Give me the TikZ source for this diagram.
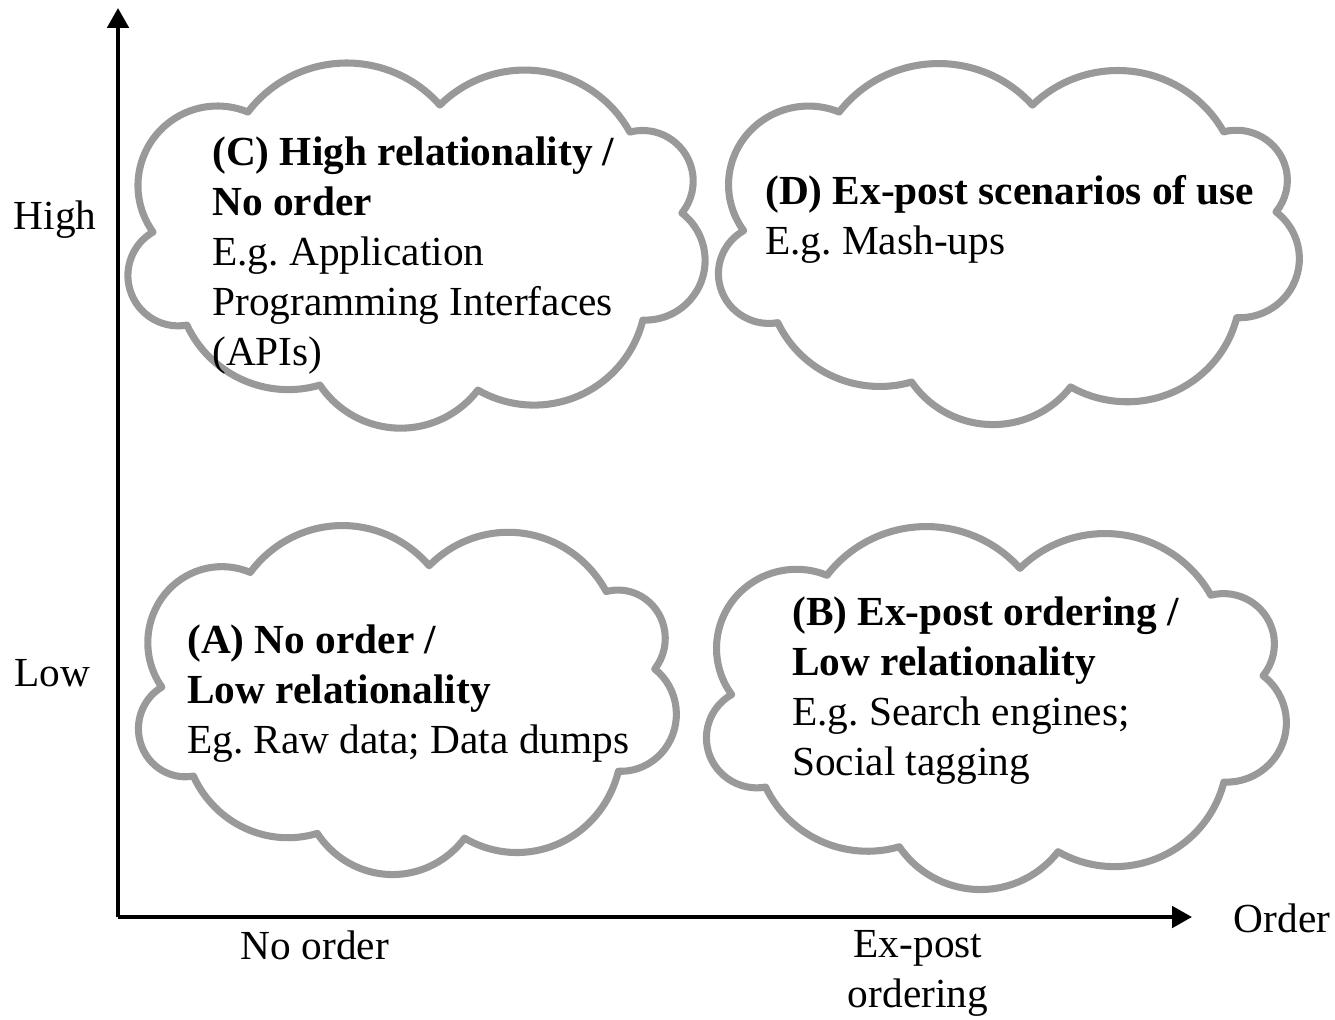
\documentclass[tikz,border=0pt]{standalone}
\usepackage{fontspec}
\setmainfont{Liberation Serif}
\usetikzlibrary{arrows.meta}
\frenchspacing

% cloud outline, nine bumps, traced on the (C) cloud
\newcommand\cloudpath{(153,232)
  arc[start angle=144.2, end angle=292.5, radius=79.5]
  arc[start angle=217.23, end angle=318.6, radius=124.17]
  arc[start angle=225.13, end angle=331.05, radius=120.2]
  arc[start angle=255.54, end angle=399.06, radius=50.67]
  arc[start angle=307.65, end angle=452.4, radius=59.75]
  arc[start angle=14.02, end angle=120.0, radius=112.24]
  arc[start angle=37.48, end angle=146.14, radius=97.29]
  arc[start angle=73.65, end angle=154.91, radius=112.0]
  arc[start angle=80.04, end angle=239.8, radius=50.3] -- cycle}

\begin{document}
\begin{tikzpicture}[x=0.75pt,y=-0.75pt]
\tikzstyle{every node}=[font=\fontsize{31}{37.5}\selectfont];
\tikzstyle{cloudline}=[draw=black!40, line width=5.3pt, line join=round];
\tikzstyle{txt}=[anchor=north west, align=left, inner sep=0pt];
\tikzstyle{axis}=[line width=3pt, -{Triangle[length=15pt,width=16pt]}];
\useasboundingbox (0,0) rectangle (1335,1020);
% axes
\coordinate (o) at (118,917);
\coordinate (ytop) at (118,8);
\coordinate (xend) at (1192,917);
\draw [axis] (o) -- (ytop);
\draw [axis] (o) -- (xend);
\node (high) at (55,220) {High};
\node (low) at (52,673) {Low};
\node (noord) at (315,945) {No order};
\node [align=center] (expost) at (918,973) {Ex-post\\ordering};
\node (order) at (1282,918) {Order};
% clouds
\draw [cloudline] \cloudpath;
\begin{scope}[shift={(718.5,63.5)}, xscale=1.0065, yscale=0.9887, shift={(-128,-62.96)}]
\draw [cloudline] \cloudpath;
\end{scope}
\begin{scope}[shift={(138.5,525.5)}, xscale=0.932, yscale=0.9558, shift={(-128,-62.96)}]
\draw [cloudline] \cloudpath;
\end{scope}
\begin{scope}[shift={(706.5,526.5)}, xscale=1.0048, yscale=0.9941, shift={(-128,-62.96)}]
\draw [cloudline] \cloudpath;
\end{scope}
\node [txt] (tC) at (212,137) {\textbf{(C) High relationality /}\\\textbf{No order}\\E.g. Application\\Programming Interfaces\\(APIs)};
\node [txt] (tD) at (765,175) {\textbf{(D) Ex-post scenarios of use}\\E.g. Mash-ups};
\node [txt] (tA) at (187,625) {\textbf{(A) No order /}\\\textbf{Low relationality}\\Eg. Raw data; Data dumps};
\node [txt] (tB) at (792,597) {\textbf{(B) Ex-post ordering /}\\\textbf{Low relationality}\\E.g. Search engines;\\Social tagging};
\end{tikzpicture}
\end{document}
